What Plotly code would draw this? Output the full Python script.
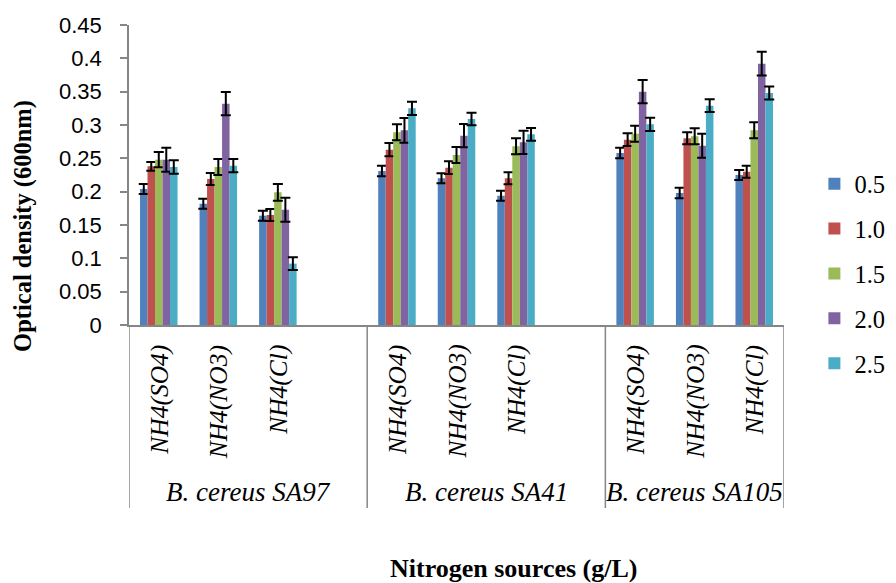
import plotly.graph_objects as go

# ---------------- data ----------------
strains = ["B. cereus SA97", "B. cereus SA41", "B. cereus SA105"]
sources = ["NH4(SO4)", "NH4(NO3)", "NH4(Cl)"]
series_names = ["0.5", "1.0", "1.5", "2.0", "2.5"]

# values in order: SA97 (SO4, NO3, Cl), SA41 (SO4, NO3, Cl), SA105 (SO4, NO3, Cl)
s05 = [0.204, 0.182, 0.164, 0.231, 0.220, 0.194, 0.258, 0.198, 0.225]
s10 = [0.238, 0.219, 0.165, 0.263, 0.236, 0.220, 0.278, 0.280, 0.230]
s15 = [0.248, 0.237, 0.199, 0.289, 0.255, 0.268, 0.287, 0.283, 0.292]
s20 = [0.248, 0.332, 0.173, 0.292, 0.284, 0.274, 0.350, 0.269, 0.392]
s25 = [0.237, 0.239, 0.092, 0.325, 0.309, 0.286, 0.301, 0.329, 0.348]

e05 = [0.0075, 0.0075, 0.0075, 0.008, 0.0075, 0.0075, 0.008, 0.0078, 0.0075]
e10 = [0.0065, 0.009, 0.009, 0.010, 0.0095, 0.009, 0.0095, 0.009, 0.009]
e15 = [0.0115, 0.012, 0.0125, 0.012, 0.012, 0.012, 0.012, 0.012, 0.012]
e20 = [0.018, 0.0175, 0.018, 0.0185, 0.0175, 0.0175, 0.0175, 0.018, 0.0178]
e25 = [0.010, 0.010, 0.0095, 0.010, 0.0095, 0.0095, 0.010, 0.0095, 0.0098]

y_ticks = [0, 0.05, 0.1, 0.15, 0.2, 0.25, 0.3, 0.35, 0.4, 0.45]
y_tick_text = ["0", "0.05", "0.1", "0.15", "0.2", "0.25", "0.3", "0.35", "0.4", "0.45"]

values = [s05, s10, s15, s20, s25]
errors = [e05, e10, e15, e20, e25]
colors = ["#4F81BD", "#C0504D", "#9BBB59", "#8064A2", "#4BACC6"]

# ---------------- category slots (with an empty slot after each group except last) ----------------
cat_keys = []      # keys with data, in data order
slot_order = []    # full axis order incl. blank gap slots
for gi, st in enumerate(strains):
    for so in sources:
        k = f"{st}|{so}"
        cat_keys.append(k)
        slot_order.append(k)
    if gi < len(strains) - 1:
        slot_order.append(f"gap{gi}")

fig = go.Figure()
for name, vals, errs, col in zip(series_names, values, errors, colors):
    fig.add_trace(go.Bar(
        x=cat_keys, y=vals, name=name, marker_color=col,
        marker_line_width=0, legendgroup=name,
        error_y=dict(type="data", array=errs, visible=True,
                     color="black", thickness=2, width=5),
    ))

serif = "Liberation Serif, Times New Roman, serif"
sans = "Liberation Sans, Arial, sans-serif"
axis_grey = "#868686"

annotations = []
shapes = []
# sub-category labels (rotated)
for k in cat_keys:
    src = k.split("|")[1]
    annotations.append(dict(
        x=k, xref="x", y=-0.06, yref="paper", text=f"<i>{src}</i>", textangle=-90,
        showarrow=False, xanchor="center", yanchor="top",
        font=dict(family=serif, size=25.5, color="black")))
# group labels and dividers
for gi, st in enumerate(strains):
    first = slot_order.index(f"{st}|{sources[0]}")
    last = first + len(sources) - 1
    end = last + 1 if gi < len(strains) - 1 else last
    center = (first + end) / 2
    annotations.append(dict(
        x=center, xref="x", y=-0.557, yref="paper", text=f"<i>{st}</i>",
        showarrow=False, xanchor="center", yanchor="middle",
        font=dict(family=serif, size=27, color="black")))
    for xb in ([first - 0.5] if gi == 0 else []) + [end + 0.5]:
        shapes.append(dict(type="line", xref="x", yref="paper",
                           x0=xb, x1=xb, y0=0, y1=-0.61,
                           line=dict(color=axis_grey, width=1.5)))

annotations.append(dict(
    x=-0.162, xref="paper", y=0.33, yref="paper",
    text="<b>Optical density (600nm)</b>", textangle=-90, showarrow=False,
    xanchor="center", yanchor="middle",
    font=dict(family=serif, size=24.5, color="black")))
annotations.append(dict(
    x=0.587, xref="paper", y=-0.812, yref="paper",
    text="<b>Nitrogen sources (g/L)</b>", showarrow=False,
    xanchor="center", yanchor="middle",
    font=dict(family=serif, size=26, color="black")))

fig.update_layout(
    width=896, height=583,
    margin=dict(l=121, r=120, t=17, b=266, autoexpand=False),
    paper_bgcolor="white", plot_bgcolor="white",
    barmode="group", bargap=0.37, bargroupgap=0,
    showlegend=True,
    legend=dict(xref="container", yref="container", x=0.9, y=0.737,
                xanchor="left", yanchor="top",
                font=dict(family=serif, size=24.5, color="black"),
                tracegroupgap=10, bgcolor="rgba(0,0,0,0)"),
    annotations=annotations,
    shapes=shapes,
    xaxis=dict(type="category", categoryorder="array", categoryarray=slot_order,
               range=[-0.5, len(slot_order) - 0.5], showticklabels=False,
               ticks="", showline=True, linecolor=axis_grey, linewidth=1.5,
               showgrid=False, zeroline=False, automargin=False),
    yaxis=dict(range=[0, 0.45], tickvals=y_ticks, ticktext=y_tick_text,
               ticks="outside", ticklen=7, tickcolor=axis_grey, tickwidth=1.5,
               showline=True, linecolor=axis_grey, linewidth=1.5,
               showgrid=False, zeroline=False, ticklabelstandoff=14,
               automargin=False,
               tickfont=dict(family=sans, size=22, color="black")),
)

fig.write_html("out.html")
